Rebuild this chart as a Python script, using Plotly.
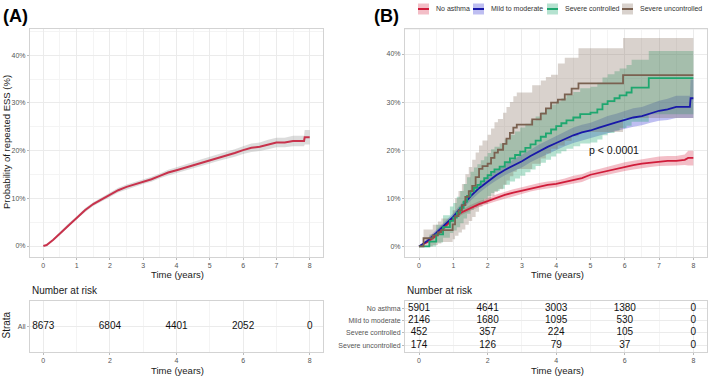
import plotly.graph_objects as go

W, H = 709, 376

# ---------------- data ----------------
# Panel A: overall cumulative incidence (%)
time_A = [0, 0.1, 0.3, 0.5, 0.75, 1, 1.25, 1.5, 1.75, 2, 2.25, 2.5, 2.75, 3, 3.25, 3.5, 3.75, 4,
          4.25, 4.5, 4.75, 5, 5.25, 5.5, 5.75, 6, 6.25, 6.5, 6.75, 7, 7.25, 7.5, 7.83, 7.85, 8]
est_A = [0, 0.2, 1.3, 2.6, 4.4, 5.9, 7.5, 8.8, 9.8, 10.7, 11.7, 12.4, 12.9, 13.5, 14.0, 14.7, 15.4, 15.9,
         16.4, 17.0, 17.5, 18.0, 18.5, 19.0, 19.5, 20.1, 20.6, 20.8, 21.3, 21.7, 21.7, 22.0, 22.0, 22.8, 22.8]
lo_A = [0, 0.1, 1.1, 2.3, 4.1, 5.6, 7.1, 8.4, 9.4, 10.3, 11.2, 11.9, 12.4, 13.0, 13.5, 14.2, 14.8, 15.3,
        15.8, 16.4, 16.8, 17.3, 17.8, 18.3, 18.7, 19.3, 19.7, 19.9, 20.3, 20.7, 20.7, 20.9, 20.9, 21.3, 21.3]
hi_A = [0, 0.3, 1.5, 2.9, 4.7, 6.2, 7.9, 9.2, 10.2, 11.1, 12.2, 12.9, 13.4, 14.0, 14.5, 15.2, 16.0, 16.5,
        17.0, 17.6, 18.2, 18.7, 19.2, 19.7, 20.3, 20.9, 21.5, 21.7, 22.3, 22.7, 22.7, 23.1, 23.1, 24.3, 24.3]

# Panel B: by asthma group
t_no = [0, 0.25, 0.5, 0.75, 1, 1.25, 1.5, 1.75, 2, 2.25, 2.5, 2.75, 3, 3.25, 3.5, 3.75, 4, 4.25, 4.5,
        4.75, 5, 5.25, 5.5, 5.75, 6, 6.25, 6.5, 6.75, 7, 7.25, 7.5, 7.75, 7.85, 8]
est_no = [0, 1.0, 2.2, 4.0, 5.9, 7.1, 8.0, 8.8, 9.4, 10.1, 10.7, 11.2, 11.6, 12.1, 12.5, 12.8, 13.0, 13.4, 13.9,
          14.2, 14.9, 15.3, 15.7, 16.2, 16.6, 16.9, 17.2, 17.4, 17.7, 17.8, 17.8, 18.0, 18.4, 18.4]
lo_no = [0, 0.7, 1.8, 3.5, 5.4, 6.6, 7.4, 8.2, 8.8, 9.4, 10.0, 10.5, 10.9, 11.4, 11.8, 12.1, 12.3, 12.7, 13.1,
         13.4, 14.1, 14.5, 14.8, 15.3, 15.7, 16.0, 16.3, 16.5, 16.7, 16.8, 16.8, 16.9, 16.8, 16.8]
hi_no = [0, 1.3, 2.6, 4.5, 6.4, 7.6, 8.6, 9.4, 10.0, 10.8, 11.4, 11.9, 12.3, 12.8, 13.2, 13.5, 13.7, 14.1, 14.7,
         15.0, 15.7, 16.1, 16.6, 17.1, 17.5, 17.8, 18.1, 18.3, 18.7, 18.8, 18.8, 19.1, 19.9, 19.9]

t_mild = [0, 0.25, 0.5, 0.75, 1, 1.25, 1.5, 1.75, 2, 2.25, 2.5, 2.75, 3, 3.25, 3.5, 3.75, 4, 4.25, 4.5,
          4.75, 5, 5.25, 5.5, 5.75, 6, 6.25, 6.5, 6.75, 7, 7.25, 7.5, 7.9, 7.92, 8]
est_mild = [0, 1.2, 2.8, 4.5, 6.2, 8.3, 10.4, 12.1, 13.5, 14.8, 15.9, 16.8, 17.7, 18.8, 19.8, 20.7, 21.5, 22.3, 23.1,
            23.7, 24.1, 24.7, 25.3, 25.8, 26.3, 26.8, 27.1, 27.7, 28.2, 28.5, 29.0, 29.0, 30.8, 30.8]
lo_mild = [0, 0.7, 2.2, 3.8, 5.5, 7.5, 9.5, 11.1, 12.5, 13.7, 14.8, 15.6, 16.4, 17.5, 18.4, 19.3, 20.0, 20.8, 21.5,
           22.1, 22.5, 23.0, 23.5, 24.0, 24.5, 24.9, 25.2, 25.7, 26.1, 26.3, 26.7, 26.7, 26.7, 26.7]
hi_mild = [0, 1.7, 3.4, 5.2, 6.9, 9.1, 11.3, 13.1, 14.5, 15.9, 17.0, 18.0, 19.0, 20.1, 21.2, 22.1, 23.0, 23.8, 24.7,
           25.3, 25.7, 26.4, 27.1, 27.6, 28.1, 28.7, 29.0, 29.7, 30.3, 30.7, 31.3, 31.3, 34.7, 34.7]

t_sc = [0, 0.3, 0.5, 0.7, 0.9, 1.0, 1.1, 1.2, 1.3, 1.4, 1.5, 1.6, 1.7, 1.8, 1.9, 2.0, 2.1, 2.2, 2.35, 2.5, 2.65,
        2.8, 2.95, 3.1, 3.25, 3.4, 3.55, 3.7, 3.85, 4.0, 4.15, 4.3, 4.5, 4.7, 5.0, 5.2, 5.35, 5.5, 5.7, 5.85,
        6.05, 6.2, 6.7, 8.0]
est_sc = [0, 1.0, 2.5, 4.0, 5.3, 6.0, 7.0, 8.0, 9.3, 10.5, 11.5, 12.2, 12.8, 13.5, 14.2, 14.8, 15.5, 16.0, 16.6,
          17.5, 18.3, 19.0, 19.7, 20.5, 21.2, 22.0, 22.8, 23.5, 24.3, 25.0, 25.6, 26.2, 26.8, 27.5, 27.8, 28.5,
          29.6, 30.2, 30.8, 31.4, 32.0, 33.0, 35.0, 35.0]
lo_sc = [0, 0, 0.8, 1.8, 2.8, 3.3, 4.0, 4.8, 5.8, 6.8, 7.6, 8.2, 8.7, 9.3, 9.9, 10.5, 11.1, 11.5, 12.0, 12.8,
         13.5, 14.1, 14.7, 15.4, 16.0, 16.7, 17.4, 18.0, 18.7, 19.3, 19.8, 20.3, 20.8, 21.4, 21.6, 22.2, 23.1,
         23.6, 24.1, 24.6, 25.1, 25.9, 27.5, 27.5]
hi_sc = [0, 2.5, 4.5, 6.5, 8.3, 9.0, 10.3, 11.5, 13.0, 14.4, 15.5, 16.4, 17.1, 17.9, 18.7, 19.4, 20.2, 20.7, 21.4,
         22.3, 23.2, 23.9, 24.7, 25.5, 26.2, 27.0, 27.9, 28.6, 29.5, 30.2, 30.8, 31.5, 32.1, 32.9, 33.2, 34.0,
         35.1, 35.8, 36.4, 37.0, 37.7, 38.8, 40.6, 40.6]

t_su = [0, 0.13, 0.4, 0.55, 0.65, 0.98, 1.05, 1.15, 1.25, 1.35, 1.45, 1.55, 1.65, 1.75, 1.85, 2.0, 2.1, 2.2,
        2.3, 2.45, 2.55, 2.65, 2.75, 2.85, 3.3, 3.55, 3.7, 3.85, 4.05, 4.25, 4.45, 4.65, 5.95, 8.0]
est_su = [0, 1.7, 2.3, 2.9, 3.4, 4.6, 6.3, 7.5, 8.6, 10.3, 11.5, 12.6, 14.4, 16.1, 16.7, 17.2, 18.4, 19.5,
          20.1, 21.3, 22.4, 23.6, 24.7, 25.3, 26.4, 27.6, 28.7, 29.9, 30.5, 31.6, 32.8, 33.9, 35.6, 35.6]
lo_su = [0, 0, 0.3, 0.6, 0.9, 1.5, 2.2, 2.9, 3.5, 4.5, 5.3, 6.1, 7.2, 8.3, 8.8, 9.7, 10.5, 11.3,
         11.9, 12.8, 13.7, 14.6, 15.5, 16.1, 17.2, 18.3, 19.3, 20.3, 21.0, 21.9, 22.9, 23.8, 26.7, 26.7]
hi_su = [0, 3.5, 4.5, 5.2, 5.8, 7.5, 10.0, 11.5, 13.0, 15.0, 16.5, 18.0, 19.5, 21.0, 22.0, 23.2, 24.5, 25.8,
         26.5, 27.8, 29.0, 30.0, 31.2, 32.0, 33.5, 34.5, 35.2, 35.7, 38.0, 39.2, 39.2, 41.2, 43.3, 43.3]

groups = ["No asthma", "Mild to moderate", "Severe controlled", "Severe uncontrolled"]

# Numbers at risk
risk_times = [0, 2, 4, 6, 8]
risk_all = [8673, 6804, 4401, 2052, 0]
risk_no = [5901, 4641, 3003, 1380, 0]
risk_mild = [2146, 1680, 1095, 530, 0]
risk_sc = [452, 357, 224, 105, 0]
risk_su = [174, 126, 79, 37, 0]

y_ticks = [0, 10, 20, 30, 40]
y_ticklabels = ["0%", "10%", "20%", "30%", "40%"]
x_ticks = [0, 1, 2, 3, 4, 5, 6, 7, 8]
risk_ticks = [0, 2, 4, 6, 8]

# ---------------- styling ----------------
FONT = "Liberation Sans, Arial, sans-serif"
line_cols = ["#D01C3A", "#1818A8", "#1EA76F", "#7A6150"]
fill_cols = ["rgba(215,40,70,0.30)", "rgba(70,70,215,0.35)", "rgba(30,167,111,0.33)", "rgba(130,105,88,0.30)"]
A_line = "#C8324C"
A_fill = "rgba(140,140,140,0.30)"
GRID = "#EBEBEB"
MINOR = "#F4F4F4"
BORDER = "#D3D3D3"
TICKC = "#555555"
TITLEC = "#1a1a1a"


def px(x):
    return x / W


def py(y):
    return 1 - y / H


def stepped(t, v, shape):
    """Expand a series into explicit step vertices (post-step, like a KM curve)."""
    if shape != "hv":
        return list(t), list(v)
    xs, ys = [t[0]], [v[0]]
    for k in range(1, len(t)):
        xs += [t[k], t[k]]
        ys += [v[k - 1], v[k]]
    return xs, ys


def band(t, lo, hi, shape, color, xa, ya):
    xu, yu = stepped(t, hi, shape)
    xl, yl = stepped(t, lo, shape)
    return go.Scatter(x=xu + xl[::-1], y=yu + yl[::-1], mode="lines", line=dict(width=0),
                      fill="toself", fillcolor=color, xaxis=xa, yaxis=ya,
                      showlegend=False, hoverinfo="skip")


fig = go.Figure()

# Panel A band + line
fig.add_trace(band(time_A, lo_A, hi_A, "linear", A_fill, "x", "y"))
fig.add_trace(go.Scatter(x=time_A, y=est_A, mode="lines", line=dict(width=2, color=A_line),
                         xaxis="x", yaxis="y", showlegend=False))

# Panel B bands
series = [
    (t_no, est_no, lo_no, hi_no, "linear"),
    (t_mild, est_mild, lo_mild, hi_mild, "linear"),
    (t_sc, est_sc, lo_sc, hi_sc, "hv"),
    (t_su, est_su, lo_su, hi_su, "hv"),
]
for i, (t, e, lo, hi, shape) in enumerate(series):
    fig.add_trace(band(t, lo, hi, shape, fill_cols[i], "x2", "y2"))
for i, (t, e, lo, hi, shape) in enumerate(series):
    fig.add_trace(go.Scatter(x=t, y=e, mode="lines", line=dict(width=1.8, shape=shape, color=line_cols[i]),
                             xaxis="x2", yaxis="y2", name=groups[i], showlegend=False))

# Risk tables
fig.add_trace(go.Scatter(x=risk_times, y=[1] * len(risk_times), mode="text",
                         text=[str(v) for v in risk_all], textfont=dict(size=10, color="#111", family=FONT),
                         xaxis="x3", yaxis="y3", showlegend=False, hoverinfo="skip"))
rows_B = [risk_no, risk_mild, risk_sc, risk_su]
for j, vals in enumerate(rows_B):
    fig.add_trace(go.Scatter(x=risk_times, y=[4 - j] * len(risk_times), mode="text",
                             text=[str(v) for v in vals], textfont=dict(size=10, color="#111", family=FONT),
                             xaxis="x4", yaxis="y4", showlegend=False, hoverinfo="skip"))

axis_common = dict(showline=True, mirror=True, linecolor=BORDER, linewidth=1, zeroline=False,
                   automargin=False,
                   gridcolor=GRID, gridwidth=1, ticks="outside", ticklen=2, tickcolor="#BBBBBB",
                   tickfont=dict(size=7, color=TICKC, family=FONT))

xdomA = [px(30), px(323)]
xdomB = [px(405), px(706.7)]
ydom_main = [py(257), py(28.5)]
ydom_risk = [py(351.7), py(300.7)]

fig.update_layout(
    width=W, height=H, margin=dict(l=0, r=0, t=0, b=0, autoexpand=False),
    paper_bgcolor="white", plot_bgcolor="white",
    font=dict(family=FONT, color="#222"),
    xaxis=dict(domain=xdomA, range=[-0.4, 8.4], tickvals=x_ticks, anchor="y",
               minor=dict(dtick=0.5, tick0=0, showgrid=True, gridcolor=MINOR, ticks=""), **axis_common),
    yaxis=dict(domain=ydom_main, range=[-2.3, 45.6], tickvals=y_ticks, ticktext=y_ticklabels, anchor="x",
               minor=dict(dtick=5, tick0=0, showgrid=True, gridcolor=MINOR, ticks=""), **axis_common),
    xaxis2=dict(domain=xdomB, range=[-0.41, 8.39], tickvals=x_ticks, anchor="y2",
                minor=dict(dtick=0.5, tick0=0, showgrid=True, gridcolor=MINOR, ticks=""), **axis_common),
    yaxis2=dict(domain=ydom_main, range=[-2.2, 45.3], tickvals=y_ticks, ticktext=y_ticklabels, anchor="x2",
                minor=dict(dtick=5, tick0=0, showgrid=True, gridcolor=MINOR, ticks=""), **axis_common),
    xaxis3=dict(domain=xdomA, range=[-0.4, 8.4], tickvals=risk_ticks, anchor="y3",
                minor=dict(dtick=1, tick0=0, showgrid=True, gridcolor=MINOR, ticks=""), **axis_common),
    yaxis3=dict(domain=ydom_risk, range=[0.5, 1.5], tickvals=[1], ticktext=["All"], anchor="x3",
                **axis_common),
    xaxis4=dict(domain=xdomB, range=[-0.41, 8.39], tickvals=risk_ticks, anchor="y4",
                minor=dict(dtick=1, tick0=0, showgrid=True, gridcolor=MINOR, ticks=""), **axis_common),
    yaxis4=dict(domain=ydom_risk, range=[0.48, 4.62], tickvals=[4, 3, 2, 1], ticktext=groups, anchor="x4",
                **axis_common),
)


def label(text, x, y, size, angle=0, bold=False, anchor="center", color=TITLEC):
    return dict(text=("<b>%s</b>" % text) if bold else text, x=px(x), y=py(y), xref="paper", yref="paper",
                xanchor=anchor, yanchor="middle", showarrow=False, textangle=angle,
                font=dict(size=size, color=color, family=FONT))


annotations = [
    label("(A)", 1, 16, 18, bold=True, anchor="left", color="#000"),
    label("(B)", 372, 16, 18, bold=True, anchor="left", color="#000"),
    label("Probability of repeated ESS (%)", 6, 142, 9.5, angle=-90),
    label("Time (years)", 177, 274.5, 9.5),
    label("Time (years)", 557, 274.5, 9.5),
    label("Number at risk", 30, 290, 10, anchor="left"),
    label("Number at risk", 405, 290, 10, anchor="left"),
    label("Strata", 5.5, 325, 10, angle=-90),
    label("Time (years)", 177, 370, 9.5),
    label("Time (years)", 557, 370, 9.5),
    dict(text="p < 0.0001", x=5.7, y=20.1, xref="x2", yref="y2", xanchor="center", yanchor="middle",
         showarrow=False, font=dict(size=10.5, color="#111", family=FONT)),
]

# Legend (manual, top of panel B)
shapes = []
leg_x = [418, 473, 547, 622]
leg_cy = 9
for i, g in enumerate(groups):
    x0 = leg_x[i]
    shapes.append(dict(type="rect", xref="paper", yref="paper", x0=px(x0), x1=px(x0 + 11),
                       y0=py(leg_cy + 5.5), y1=py(leg_cy - 5.5), fillcolor=fill_cols[i], line=dict(width=0)))
    shapes.append(dict(type="line", xref="paper", yref="paper", x0=px(x0), x1=px(x0 + 11),
                       y0=py(leg_cy), y1=py(leg_cy), line=dict(color=line_cols[i], width=2)))
    annotations.append(label(g, x0 + 16, leg_cy, 7, anchor="left", color="#333"))

fig.update_layout(annotations=annotations, shapes=shapes)
fig.write_html("out.html", config={"displayModeBar": False},
               post_script="document.body.style.margin='0';document.body.style.padding='0';"
                           "document.body.style.overflow='hidden';")
